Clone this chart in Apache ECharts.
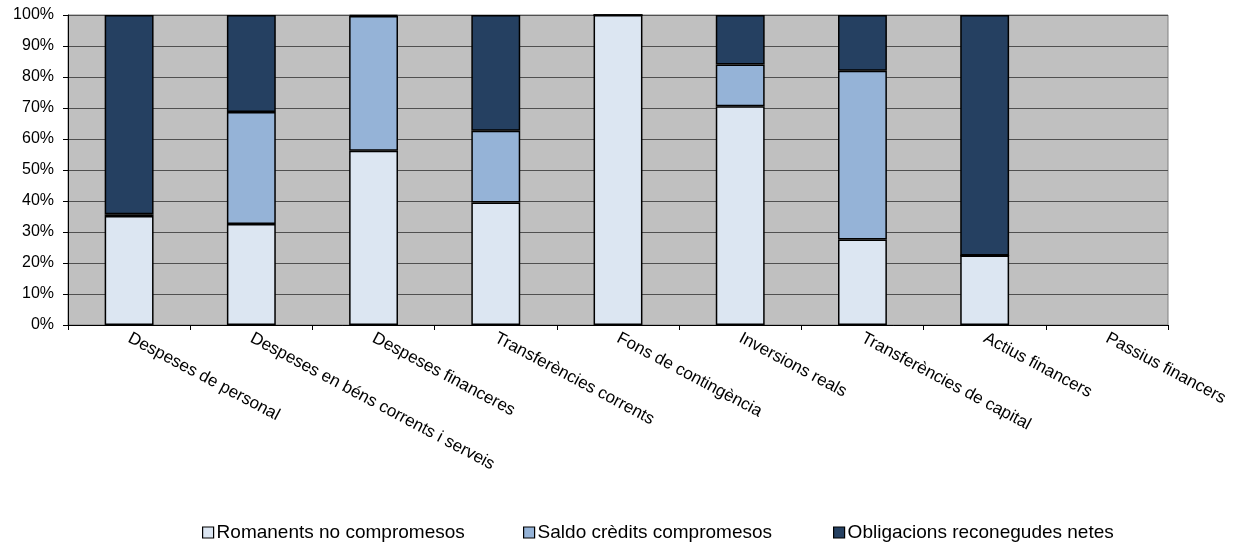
<!DOCTYPE html>
<html>
<head>
<meta charset="utf-8">
<script src="https://cdn.jsdelivr.net/npm/echarts@6/dist/echarts.min.js"></script>
<style>html,body{margin:0;padding:0;background:#fff}#c{width:1246px;height:546px}</style>
</head>
<body>
<div id="c"></div>
<script>
const categories = ["Despeses de personal","Despeses en béns corrents i serveis","Despeses financeres","Transferències corrents","Fons de contingència","Inversions reals","Transferències de capital","Actius financers","Passius financers"];
const romanents = [35.2, 32.6, 56.2, 39.5, 100, 70.6, 27.6, 22.4, null];
const saldo = [0.5, 36.1, 43.5, 23.2, 0, 13.4, 54.4, 0, null];
const obligacions = [64.3, 31.3, 0.3, 37.3, 0, 16.0, 18.0, 77.6, null];
const seriesNames = ["Romanents no compromesos","Saldo crèdits compromesos","Obligacions reconegudes netes"];
const yTicks = [0,10,20,30,40,50,60,70,80,90,100];

const colors = ['#DCE6F2','#95B3D7','#254061'];
const font = 'Liberation Sans, Arial, sans-serif';
const chart = echarts.init(document.getElementById('c'));
const mk = (name, data, i) => ({
  name, type: 'bar', stack: 'total', data, barWidth: '40%',
  itemStyle: { color: colors[i], borderColor: '#000', borderWidth: 1.5 }
});
const legendLefts = [202, 523, 833];
chart.setOption({
  animation: false,
  grid: { left: 68, right: 78, top: 15, bottom: 221, show: true, backgroundColor: '#C0C0C0', borderColor: '#808080', borderWidth: 1 },
  xAxis: {
    type: 'category', data: categories,
    axisLine: { lineStyle: { color: '#000', width: 1 } },
    axisTick: { show: true, length: 5, lineStyle: { color: '#000' } },
    axisLabel: { rotate: -28, margin: 12, color: '#000', fontSize: 17, fontFamily: font, interval: 0 }
  },
  yAxis: {
    type: 'value', min: 0, max: 100, interval: 10,
    axisLine: { show: true, lineStyle: { color: '#000', width: 1 } },
    axisTick: { show: true, length: 5, lineStyle: { color: '#000' } },
    axisLabel: { formatter: v => yTicks.includes(v) ? v + '%' : '', color: '#000', fontSize: 16, fontFamily: font, margin: 14 },
    splitLine: { show: true, lineStyle: { color: '#505050', width: 1 } }
  },
  legend: seriesNames.map((n, i) => ({
    data: [n], left: legendLefts[i], top: 523, padding: 0,
    icon: 'rect', itemWidth: 11, itemHeight: 11, itemGap: 2,
    itemStyle: { borderColor: '#000', borderWidth: 1.2 },
    textStyle: { color: '#000', fontSize: 19, fontFamily: font, padding: [0,0,0,-2] }
  })),
  series: [mk(seriesNames[0], romanents, 0), mk(seriesNames[1], saldo, 1), mk(seriesNames[2], obligacions, 2)]
});
</script>
</body>
</html>
